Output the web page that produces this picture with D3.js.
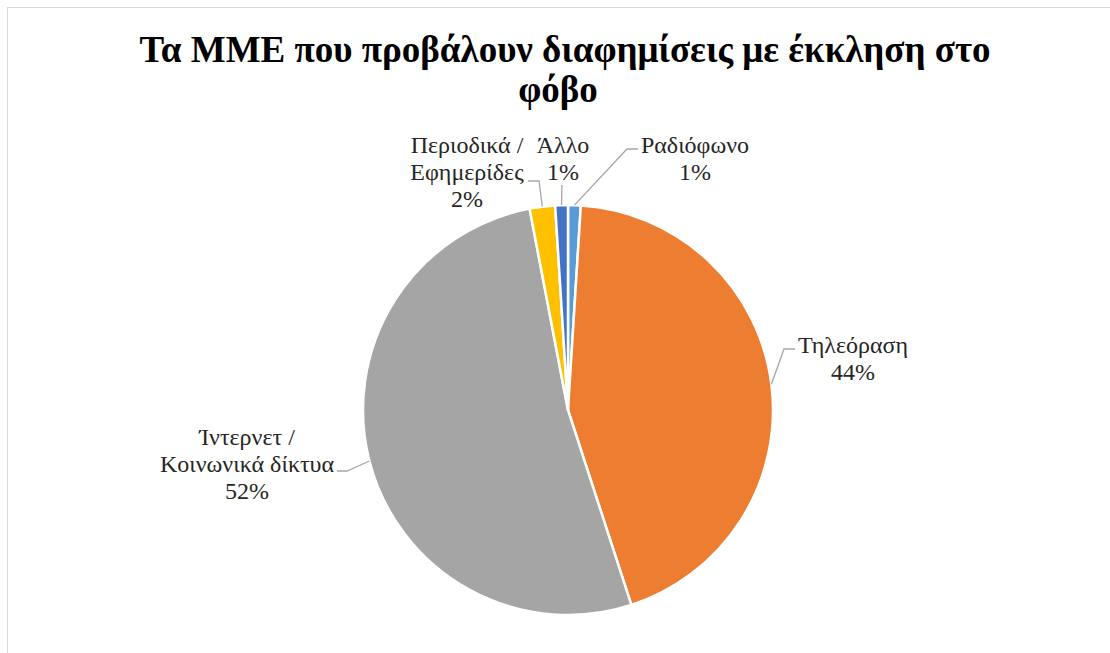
<!DOCTYPE html>
<html>
<head>
<meta charset="utf-8">
<script src="https://cdn.jsdelivr.net/npm/d3@7"></script>
<style>
  html, body { margin: 0; padding: 0; background: #fff; }
  svg { display: block; }
</style>
</head>
<body>
<svg id="chart" width="1110" height="653"></svg>
<script>
// Media that broadcast fear-appeal advertisements (share of responses, %)
const categories = ["Ραδιόφωνο", "Τηλεόραση", "Ίντερνετ / Κοινωνικά δίκτυα", "Περιοδικά / Εφημερίδες", "Άλλο"];
const values = [1, 44, 52, 2, 1];
const labelLines = [
  ["Ραδιόφωνο"],
  ["Τηλεόραση"],
  ["Ίντερνετ /", "Κοινωνικά δίκτυα"],
  ["Περιοδικά /", "Εφημερίδες"],
  ["Άλλο"]
];
const colors = ["#5B9BD5", "#ED7D31", "#A5A5A5", "#FFC000", "#4472C4"];
const titleLines = ["Τα ΜΜΕ που προβάλουν διαφημίσεις με έκκληση στο", "φόβο"];

// Layout
const W = 1110, H = 653;
const cx = 568, cy = 410, R = 205;
const FONT = "Liberation Serif";
// label block placement: centre x, first baseline y, elbow point and end of leader line
const labelLayout = [
  { x: 695, y: 153, elbow: [627, 149], end: [638, 149] },
  { x: 853, y: 353, elbow: [784, 349], end: [795, 349] },
  { x: 247, y: 445, elbow: [347, 471], end: [337, 471] },
  { x: 467, y: 153, elbow: [539, 181], end: [528, 181] },
  { x: 563, y: 153, elbow: null, end: [562, 185] }
];

const svg = d3.select("#chart");

// outer chart-area border
svg.append("rect")
  .attr("x", 7.5).attr("y", 7.5)
  .attr("width", W + 10).attr("height", H + 10)
  .attr("fill", "none").attr("stroke", "#D9D9D9").attr("stroke-width", 1);

// centred text placed from its measured width
function centredText(parent, str, x, y, size, weight, fill) {
  const t = parent.append("text")
    .attr("x", x).attr("y", y)
    .attr("font-family", FONT).attr("font-size", size)
    .attr("font-weight", weight).attr("fill", fill)
    .text(str);
  const w = t.node().getComputedTextLength();
  t.attr("x", x - w / 2);
  return t;
}

// title
const titleG = svg.append("g");
centredText(titleG, titleLines[0], 565, 62, 37, "bold", "#000");
centredText(titleG, titleLines[1], 558, 102, 37, "bold", "#000");

const data = categories.map((c, i) => ({ name: c, value: values[i], color: colors[i], lines: labelLines[i], layout: labelLayout[i] }));
const pie = d3.pie().value(d => d.value).sort(null).startAngle(0).endAngle(2 * Math.PI);
const arcs = pie(data);
const arcGen = d3.arc().innerRadius(0).outerRadius(R);

// slices
const g = svg.append("g").attr("transform", `translate(${cx},${cy})`);
g.selectAll("path.slice").data(arcs).join("path")
  .attr("class", "slice").attr("d", arcGen)
  .attr("fill", d => d.data.color)
  .attr("stroke", "#fff").attr("stroke-width", 2.5).attr("stroke-linejoin", "round");

// leader lines from the slice edge at its mid-angle
const edgePoint = d => {
  const a = (d.startAngle + d.endAngle) / 2;
  return [cx + R * Math.sin(a), cy - R * Math.cos(a)];
};
svg.selectAll("path.leader").data(arcs).join("path")
  .attr("class", "leader")
  .attr("d", d => {
    const L = d.data.layout;
    const pts = [edgePoint(d)];
    if (L.elbow) pts.push(L.elbow);
    pts.push(L.end);
    return d3.line()(pts);
  })
  .attr("fill", "none").attr("stroke", "#A6A6A6").attr("stroke-width", 1.3);

// labels: category lines followed by the percentage
const lineH = 27;
const labelG = svg.append("g");
arcs.forEach(d => {
  const L = d.data.layout;
  const rows = d.data.lines.concat([d.data.value + "%"]);
  rows.forEach((r, i) => centredText(labelG, r, L.x, L.y + i * lineH, 24, "normal", "#262626"));
});
</script>
</body>
</html>
